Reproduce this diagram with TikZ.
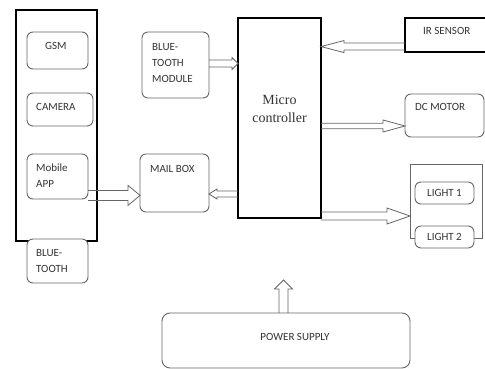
\documentclass[tikz,border=0pt]{standalone}
\usepackage{fontspec}
\setmainfont{Carlito}
\newfontfamily\serifmc{Liberation Serif}
\usetikzlibrary{calc}
\definecolor{linegray}{gray}{0.4}
\definecolor{textgray}{gray}{0.2}
\newcommand{\harrow}[5]{%
  \draw[blockarrow] let \p1=(#1), \p2=(#2), \n1={sign(\x2-\x1)} in
    (\x1,\y1+#3pt) -- (\x2-\n1*#5pt,\y1+#3pt) -- (\x2-\n1*#5pt,\y1+#4pt) -- (\x2,\y1)
    -- (\x2-\n1*#5pt,\y1-#4pt) -- (\x2-\n1*#5pt,\y1-#3pt) -- (\x1,\y1-#3pt);}
\newcommand{\varrow}[5]{%
  \draw[blockarrow] let \p1=(#1), \p2=(#2), \n1={sign(\y2-\y1)} in
    (\x1+#3pt,\y1) -- (\x1+#3pt,\y2-\n1*#5pt) -- (\x1+#4pt,\y2-\n1*#5pt) -- (\x1,\y2)
    -- (\x1-#4pt,\y2-\n1*#5pt) -- (\x1-#3pt,\y2-\n1*#5pt) -- (\x1-#3pt,\y1);}
\begin{document}
\begin{tikzpicture}[x=1pt,y=-1pt,
  thinbox/.style={draw=linegray, line width=0.9pt, rounded corners=6pt, fill=white,
    inner sep=0pt, outer sep=0pt, anchor=north west},
  plainbox/.style={draw=linegray, line width=0.9pt, inner sep=0pt, outer sep=0pt, anchor=north west},
  thickbox/.style={draw=black, line width=2.4pt, fill=white, inner sep=0pt, outer sep=0pt, anchor=north west},
  txt/.style={anchor=north west, inner sep=0pt, align=left, text=textgray,
    font=\fontsize{11}{16}\selectfont},
  ctxt/.style={text=textgray, font=\fontsize{11}{16}\selectfont},
  blockarrow/.style={draw=linegray, line width=0.8pt, line join=miter},
]
\useasboundingbox (0,0) rectangle (485,369);

% left column
\node[thickbox, minimum width=81pt, minimum height=231pt] (phone) at (16,10) {};
\node[thinbox, minimum width=61pt, minimum height=37pt,
  label={[txt, xshift=18pt, yshift=-10pt]north west:GSM}] (gsm) at (27,32) {};
\node[thinbox, minimum width=66pt, minimum height=33pt,
  label={[txt, xshift=9pt, yshift=-10pt]north west:CAMERA}] (camera) at (27,93) {};
\node[thinbox, minimum width=61pt, minimum height=45pt,
  label={[txt, xshift=9pt, yshift=-10pt]north west:Mobile\\APP}] (mobile) at (27,154) {};
\node[thinbox, minimum width=61pt, minimum height=44pt,
  label={[txt, xshift=9pt, yshift=-10pt]north west:BLUE-\\TOOTH}] (bt) at (27,239) {};

% middle column
\node[thinbox, minimum width=67pt, minimum height=66pt,
  label={[txt, xshift=10pt, yshift=-11pt]north west:BLUE-\\TOOTH\\MODULE}] (btm) at (142,32) {};
\node[thinbox, minimum width=69pt, minimum height=58pt,
  label={[txt, xshift=10pt, yshift=-11pt]north west:MAIL BOX}] (mail) at (140,154) {};

% micro controller
\node[thickbox, minimum width=83pt, minimum height=200pt,
  label={[anchor=north, inner sep=0pt, align=center, text=textgray,
    font=\serifmc\fontsize{14}{18}\selectfont, yshift=-77pt]north:Micro\\controller}] (mc) at (238,18) {};

% right column
\node[thickbox, minimum width=92pt, minimum height=34pt,
  label={[txt, xshift=18pt, yshift=-9pt]north west:IR SENSOR}] (ir) at (405,18) {};
\node[thinbox, minimum width=79pt, minimum height=43pt,
  label={[txt, xshift=10pt, yshift=-9pt]north west:DC MOTOR}] (dc) at (405,94) {};
\node[plainbox, minimum width=72pt, minimum height=74pt] (lights) at (410,164) {};
\node[thinbox, minimum width=59pt, minimum height=22pt, ctxt] (l1) at (415,182) {LIGHT 1};
\node[thinbox, minimum width=59pt, minimum height=22pt, ctxt] (l2) at (415,226) {LIGHT 2};

% power supply
\node[thinbox, rounded corners=8pt, minimum width=248pt, minimum height=55pt,
  label={[anchor=north, inner sep=0pt, text=textgray, font=\fontsize{11}{16}\selectfont,
    xshift=9pt, yshift=-20pt]north:POWER SUPPLY}] (power) at (162,313) {};
\coordinate (pwrtip) at (283.5,280);

% arrows
\harrow{$(mobile.north east)!0.92!(mobile.south east)$}{mail.west}{5}{10}{12}
\harrow{$(btm.east)+(0,-1.5)$}{mc.west}{3.5}{6}{6}
\harrow{$(mc.north west)!0.88!(mc.south west)$}{mail.east}{3}{5}{8}
\harrow{$(ir.north west)!0.84!(ir.south west)$}{mc.east}{3.5}{6}{23}
\harrow{$(mc.north east)!0.54!(mc.south east)$}{dc.west}{2.8}{6}{22}
\harrow{$(mc.north east)!0.99!(mc.south east)$}{lights.west}{4}{8}{23}
\varrow{$(power.north)+(-2.5,0)$}{pwrtip}{4.5}{9}{9}
\end{tikzpicture}
\end{document}
